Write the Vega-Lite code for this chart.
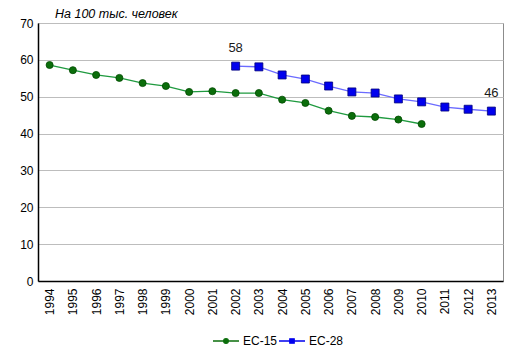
{
  "$schema": "https://vega.github.io/schema/vega-lite/v6.json",
  "width": 465,
  "height": 258,
  "autosize": {"type": "none"},
  "padding": {"left": 38, "top": 23, "right": 14, "bottom": 75},
  "background": "white",
  "title": {
    "text": "На 100 тыс. человек",
    "anchor": "start",
    "frame": "group",
    "dx": 17,
    "offset": -3,
    "font": "Liberation Sans",
    "fontSize": 12.5,
    "fontStyle": "italic",
    "fontWeight": "normal",
    "color": "#000000"
  },
  "config": {
    "font": "Liberation Sans",
    "view": {"stroke": "#8c8c8c", "strokeWidth": 1},
    "axis": {"labelFont": "Liberation Sans", "labelFontSize": 12, "labelColor": "#000000", "titleFontSize": 12},
    "legend": {"labelFont": "Liberation Sans", "labelFontSize": 12, "labelColor": "#000000"}
  },
  "data": {
    "values": [
      {"year": "1994", "series": "ЕС-15", "value": 58.6},
      {"year": "1995", "series": "ЕС-15", "value": 57.2},
      {"year": "1996", "series": "ЕС-15", "value": 55.9},
      {"year": "1997", "series": "ЕС-15", "value": 55.1},
      {"year": "1998", "series": "ЕС-15", "value": 53.7},
      {"year": "1999", "series": "ЕС-15", "value": 52.9},
      {"year": "2000", "series": "ЕС-15", "value": 51.3},
      {"year": "2001", "series": "ЕС-15", "value": 51.5},
      {"year": "2002", "series": "ЕС-15", "value": 51.0},
      {"year": "2003", "series": "ЕС-15", "value": 51.0},
      {"year": "2004", "series": "ЕС-15", "value": 49.2},
      {"year": "2005", "series": "ЕС-15", "value": 48.3},
      {"year": "2006", "series": "ЕС-15", "value": 46.2},
      {"year": "2007", "series": "ЕС-15", "value": 44.8},
      {"year": "2008", "series": "ЕС-15", "value": 44.5},
      {"year": "2009", "series": "ЕС-15", "value": 43.8},
      {"year": "2010", "series": "ЕС-15", "value": 42.6},
      {"year": "2002", "series": "ЕС-28", "value": 58.3},
      {"year": "2003", "series": "ЕС-28", "value": 58.1},
      {"year": "2004", "series": "ЕС-28", "value": 55.9},
      {"year": "2005", "series": "ЕС-28", "value": 54.8},
      {"year": "2006", "series": "ЕС-28", "value": 52.9},
      {"year": "2007", "series": "ЕС-28", "value": 51.3},
      {"year": "2008", "series": "ЕС-28", "value": 51.0},
      {"year": "2009", "series": "ЕС-28", "value": 49.4},
      {"year": "2010", "series": "ЕС-28", "value": 48.6},
      {"year": "2011", "series": "ЕС-28", "value": 47.2},
      {"year": "2012", "series": "ЕС-28", "value": 46.6},
      {"year": "2013", "series": "ЕС-28", "value": 46.1}
    ]
  },
  "encoding": {
    "x": {
      "field": "year",
      "type": "ordinal",
      "scale": {"type": "point", "padding": 0.5},
      "axis": {
        "title": null,
        "labelAngle": -90,
        "ticks": false,
        "labelPadding": 7,
        "domainColor": "#000000",
        "domainWidth": 1.5,
        "grid": false
      }
    },
    "y": {
      "field": "value",
      "type": "quantitative",
      "scale": {"domain": [0, 70], "nice": false},
      "axis": {
        "title": null,
        "values": [0, 10, 20, 30, 40, 50, 60, 70],
        "ticks": false,
        "labelPadding": 5,
        "domainColor": "#000000",
        "domainWidth": 1.5,
        "gridColor": "#bdbdbd",
        "gridWidth": 1
      }
    }
  },
  "layer": [
    {
      "mark": {"type": "line", "strokeWidth": 1.3},
      "encoding": {
        "detail": {"field": "series", "type": "nominal"},
        "stroke": {
          "condition": {"test": "datum.series === 'ЕС-15'", "value": "#1f9a3f"},
          "value": "#6b6bff"
        }
      }
    },
    {
      "transform": [{"filter": "datum.series === 'ЕС-15'"}],
      "mark": {"type": "point", "filled": true, "opacity": 1, "strokeWidth": 0.8, "stroke": "#004a00", "size": 50},
      "encoding": {
        "color": {
          "field": "series",
          "type": "nominal",
          "scale": {"domain": ["ЕС-15", "ЕС-28"], "range": ["#0b6e0b", "#0000ee"]},
          "legend": {
            "title": null,
            "orient": "none",
            "legendX": 174,
            "legendY": 304,
            "direction": "horizontal",
            "symbolType": {"expr": "datum.value === 'ЕС-15' ? 'M-1,0H1M0.18,0A0.18,0.18,0,1,1,-0.18,0A0.18,0.18,0,1,1,0.18,0Z' : 'M-1,0H1M-0.17,-0.17H0.17V0.17H-0.17Z'"},
            "symbolSize": 676,
            "symbolStrokeWidth": 1.3,
            "symbolStrokeColor": {"expr": "datum.value === 'ЕС-15' ? '#0b6e0b' : '#0000ee'"},
            "symbolFillColor": {"expr": "datum.value === 'ЕС-15' ? '#0b6e0b' : '#0000ee'"},
            "labelOffset": 3,
            "columnPadding": -2,
            "encode": {
              "symbols": {
                "update": {
                  "stroke": {"signal": "datum.value === 'ЕС-15' ? '#0b6e0b' : '#0000ee'"},
                  "fill": {"signal": "datum.value === 'ЕС-15' ? '#0b6e0b' : '#0000ee'"},
                  "strokeWidth": {"value": 1.3},
                  "opacity": {"value": 1}
                }
              }
            }
          }
        }
      }
    },
    {
      "transform": [{"filter": "datum.series === 'ЕС-28'"}],
      "mark": {"type": "point", "shape": "square", "filled": true, "opacity": 1, "strokeWidth": 0.8, "stroke": "#00007a", "size": 64},
      "encoding": {
        "color": {"field": "series", "type": "nominal"}
      }
    },
    {
      "transform": [
        {"filter": "datum.series === 'ЕС-28' && (datum.year === '2002' || datum.year === '2013')"}
      ],
      "mark": {"type": "text", "dy": -18, "fontSize": 13, "font": "Liberation Sans", "color": "#1a1a1a"},
      "encoding": {
        "text": {"field": "value", "type": "quantitative", "format": ".0f"}
      }
    }
  ]
}
